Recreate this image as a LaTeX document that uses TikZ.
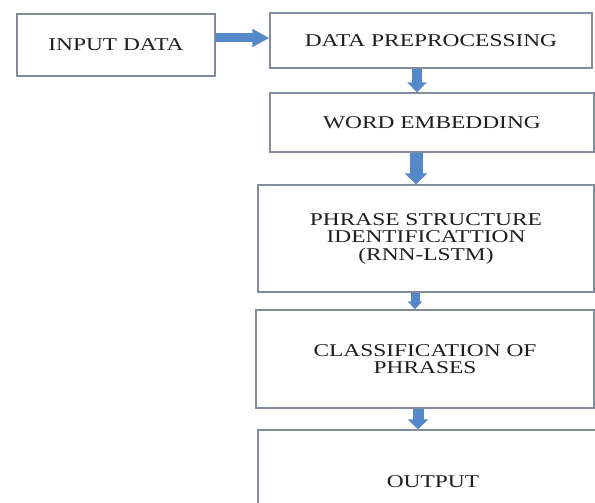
\documentclass[tikz,border=0pt]{standalone}
\usepackage{fontspec}
\setmainfont{Liberation Serif}[FakeStretch=1.3]
\usetikzlibrary{arrows.meta}
\definecolor{arrowblue}{RGB}{84,136,200}
\definecolor{boxline}{RGB}{130,140,155}
\definecolor{txt}{RGB}{30,30,30}
\begin{document}
\begin{tikzpicture}[x=1pt,y=-1pt,
  box/.style={draw=boxline, line width=1.3pt, fill=white, rectangle, inner sep=0pt,
    align=center, text=txt, font=\fontsize{18}{17.5}\selectfont},
  flow/.style={draw=arrowblue, line width=#1}]
\useasboundingbox (0,0) rectangle (595,503);
\clip (0,0) rectangle (595,503);
\fill[white] (0,0) rectangle (595,503);
\node[box, minimum width=198pt, minimum height=62pt] (input) at (116,45) {INPUT DATA};
\node[box, minimum width=322pt, minimum height=55pt] (prep) at (431,40.5) {DATA PREPROCESSING};
\node[box, minimum width=324pt, minimum height=59pt] (word) at (432,122.5) {WORD EMBEDDING};
\node[box, minimum width=336pt, minimum height=107pt] (phrase) at (426,238.5) {PHRASE STRUCTURE\\IDENTIFICATTION\\(RNN-LSTM)};
\node[box, minimum width=338pt, minimum height=98pt] (class) at (425,359) {CLASSIFICATION OF\\PHRASES};
\node[box, minimum width=350pt, minimum height=104pt] (out) at (433,482) {OUTPUT};
\coordinate (ay) at (0,38);
\coordinate (ax1) at (417,0);
\coordinate (ax2) at (416,0);
\coordinate (ax3) at (415,0);
\coordinate (ax4) at (418,0);
\draw[flow=9pt, -{Triangle[width=17pt,length=17pt]}] (input.east |- ay) -- (prep.west |- ay);
\draw[flow=10pt, -{Triangle[width=19pt,length=10pt]}] (ax1 |- prep.south) -- (ax1 |- word.north);
\draw[flow=13pt, -{Triangle[width=22pt,length=11pt]}] (ax2 |- word.south) -- (ax2 |- phrase.north);
\draw[flow=9pt, -{Triangle[width=14pt,length=8pt]}] (ax3 |- phrase.south) -- (ax3 |- class.north);
\draw[flow=11pt, -{Triangle[width=20pt,length=10pt]}] (ax4 |- class.south) -- (ax4 |- out.north);
\end{tikzpicture}
\end{document}
